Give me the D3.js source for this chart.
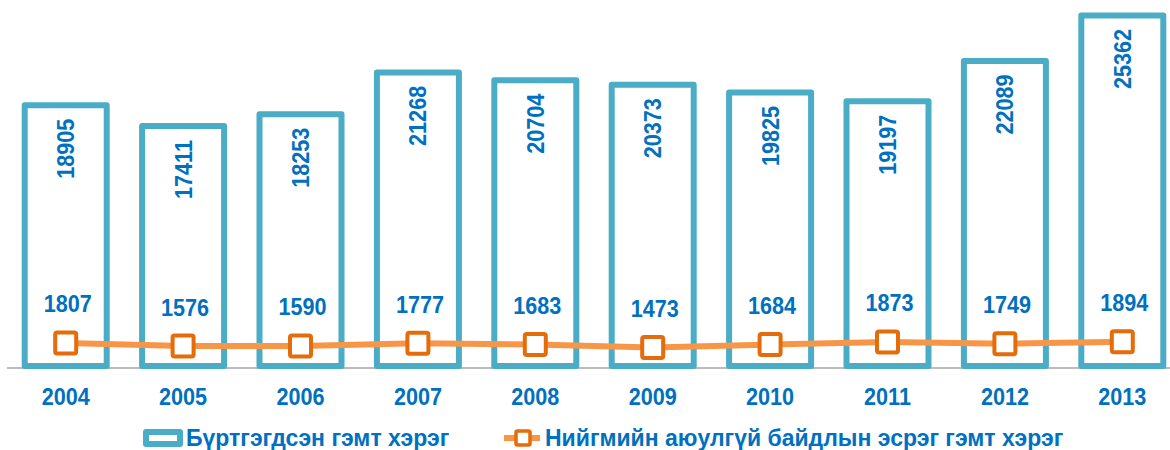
<!DOCTYPE html>
<style>
    body { margin: 0; background: #fff; }
    .num {
      font-family: "Liberation Sans", Arial, sans-serif;
      font-weight: bold;
      font-size: 24px;
      fill: #0070C0;
    }
    .legend-text {
      font-family: "Liberation Sans", Arial, sans-serif;
      font-weight: bold;
      font-size: 23px;
      fill: #0070C0;
    }
</style>

<body>

    <script src="https://d3js.org/d3.v7.min.js"></script>
    <script>
        var years = ["2004", "2005", "2006", "2007", "2008", "2009", "2010", "2011", "2012", "2013"];
        var registered = [18905, 17411, 18253, 21268, 20704, 20373, 19825, 19197, 22089, 25362];
        var publicSafety = [1807, 1576, 1590, 1777, 1683, 1473, 1684, 1873, 1749, 1894];
        var legendLabels = ["Бүртгэгдсэн гэмт хэрэг", "Нийгмийн аюулгүй байдлын эсрэг гэмт хэрэг"];

        var width = 1170, height = 450;
        var baseY = 368;

        var svg = d3.select("body").append("svg")
                    .attr("width", width)
                    .attr("height", height);

        var x = d3.scaleBand()
            .domain(years)
            .range([7, 1181])
            .padding(0);

        var y = d3.scaleLinear()
            .domain([0, 26475])
            .range([baseY, 0]);

        var barW = 82;

        // category axis line
        svg.append("line")
            .attr("x1", 7).attr("x2", width)
            .attr("y1", baseY).attr("y2", baseY)
            .attr("stroke", "#A6A6A6")
            .attr("stroke-width", 1.5);

        // bars (outlined)
        svg.append("g")
            .selectAll("rect")
            .data(registered)
            .enter().append("rect")
              .attr("x", function(d, i) { return x(years[i]) + x.bandwidth() / 2 - barW / 2; })
              .attr("y", function(d) { return y(d); })
              .attr("width", barW)
              .attr("height", function(d) { return baseY - 2 - y(d); })
              .attr("fill", "#fff")
              .attr("stroke", "#4BACC6")
              .attr("stroke-width", 6)
              .attr("stroke-linejoin", "round");

        // bar value labels, rotated
        svg.append("g")
            .selectAll("text")
            .data(registered)
            .enter().append("text")
              .attr("class", "num")
              .attr("text-anchor", "middle")
              .attr("dominant-baseline", "central")
              .attr("transform", function(d, i) {
                  var cx = x(years[i]) + x.bandwidth() / 2;
                  var cy = y(d) + 43.5;
                  return "translate(" + cx + "," + cy + ") rotate(-90) scale(0.9,1)";
              })
              .text(function(d) { return d; });

        // line series
        var line = d3.line()
            .x(function(d, i) { return x(years[i]) + x.bandwidth() / 2; })
            .y(function(d) { return y(d); });

        svg.append("path")
            .datum(publicSafety)
            .attr("d", line)
            .attr("fill", "none")
            .attr("stroke", "#F79646")
            .attr("stroke-width", 6);

        svg.append("g")
            .selectAll("rect")
            .data(publicSafety)
            .enter().append("rect")
              .attr("x", function(d, i) { return x(years[i]) + x.bandwidth() / 2 - 10.5; })
              .attr("y", function(d) { return y(d) - 10.5; })
              .attr("width", 21)
              .attr("height", 21)
              .attr("rx", 2)
              .attr("fill", "#fff")
              .attr("stroke", "#E46C0A")
              .attr("stroke-width", 4);

        svg.append("g")
            .selectAll("text")
            .data(publicSafety)
            .enter().append("text")
              .attr("class", "num")
              .attr("text-anchor", "middle")
              .attr("dominant-baseline", "central")
              .attr("transform", function(d, i) {
                  var cx = x(years[i]) + x.bandwidth() / 2 + 2;
                  var cy = y(d) - 39;
                  return "translate(" + cx + "," + cy + ") scale(0.9,1)";
              })
              .text(function(d) { return d; });

        // year labels
        svg.append("g")
            .selectAll("text")
            .data(years)
            .enter().append("text")
              .attr("class", "num")
              .attr("text-anchor", "middle")
              .attr("dominant-baseline", "central")
              .attr("transform", function(d) {
                  return "translate(" + (x(d) + x.bandwidth() / 2) + ",397) scale(0.9,1)";
              })
              .text(function(d) { return d; });

        // legend
        var leg = svg.append("g");
        leg.append("rect")
            .attr("x", 143).attr("y", 429)
            .attr("width", 40).attr("height", 18)
            .attr("rx", 3)
            .attr("fill", "#4BACC6");
        leg.append("rect")
            .attr("x", 149).attr("y", 435)
            .attr("width", 28).attr("height", 6)
            .attr("fill", "#fff");
        leg.append("text")
            .attr("class", "legend-text")
            .attr("x", 186).attr("y", 438)
            .attr("dominant-baseline", "central")
            .text(legendLabels[0]);

        leg.append("line")
            .attr("x1", 504).attr("x2", 540)
            .attr("y1", 438).attr("y2", 438)
            .attr("stroke", "#F79646")
            .attr("stroke-width", 6);
        leg.append("rect")
            .attr("x", 516).attr("y", 431)
            .attr("width", 14).attr("height", 14)
            .attr("rx", 1.5)
            .attr("fill", "#fff")
            .attr("stroke", "#E46C0A")
            .attr("stroke-width", 3.5);
        leg.append("text")
            .attr("class", "legend-text")
            .attr("x", 545).attr("y", 438)
            .attr("dominant-baseline", "central")
            .text(legendLabels[1]);
    </script>
</body>
